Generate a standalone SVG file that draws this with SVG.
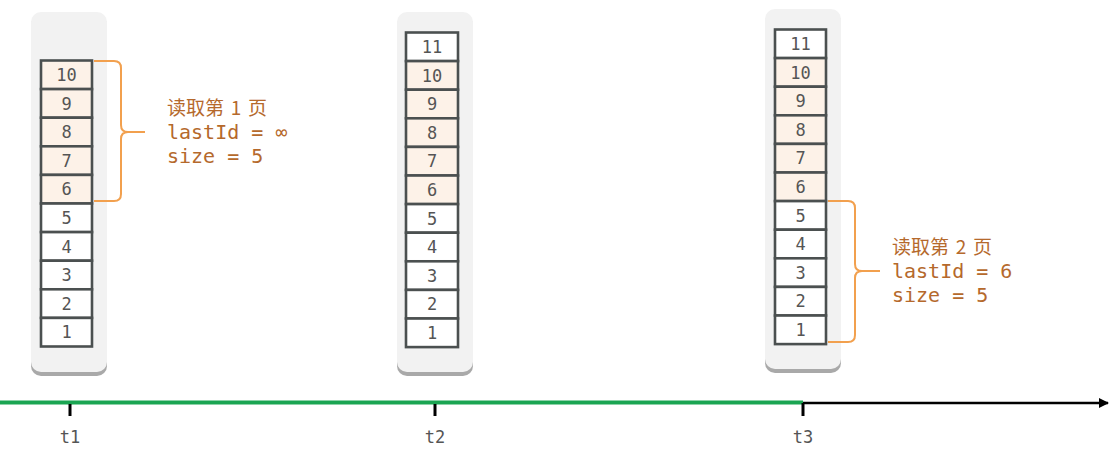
<svg xmlns="http://www.w3.org/2000/svg" width="1117" height="460" viewBox="0 0 1117 460">
<defs>
<style>
.bg{fill:#f2f2f2}
.sh{fill:#a9a9a9}
.c{stroke:#4b5050;stroke-width:2.6}
.w{fill:#ffffff}
.p{fill:#fdf2e8}
.n{font-family:"DejaVu Sans Mono","Liberation Mono",monospace;font-size:17px;fill:#555;text-anchor:middle}
.lbl{font-family:"DejaVu Sans Mono","Liberation Mono","Noto Sans CJK SC",monospace;font-size:20px;fill:#b5692c}
.zh{font-family:"Noto Sans CJK SC",sans-serif;font-size:19px;fill:#b5692c;word-spacing:2.5px}
.br{fill:none;stroke:#f2a04e;stroke-width:2}
.t{font-family:"DejaVu Sans Mono","Liberation Mono",monospace;font-size:17px;fill:#555;text-anchor:middle}
</style>
<marker id="arr" viewBox="0 0 10 10" refX="9" refY="5" markerWidth="4" markerHeight="4" orient="auto" markerUnits="strokeWidth">
<path d="M0,0 L10,5 L0,10 Z" fill="#000"/>
</marker>
</defs>
<rect width="1117" height="460" fill="#fff"/>

<g id="stack-t1">
<rect class="sh" x="31" y="15" width="76" height="361" rx="10"/>
<rect class="bg" x="31" y="12" width="76" height="360" rx="10"/>
<rect class="c p" x="41" y="60.5" width="51" height="28.6"/><text class="n" x="66.5" y="81">10</text>
<rect class="c p" x="41" y="89.1" width="51" height="28.6"/><text class="n" x="66.5" y="109.6">9</text>
<rect class="c p" x="41" y="117.7" width="51" height="28.6"/><text class="n" x="66.5" y="138.2">8</text>
<rect class="c p" x="41" y="146.3" width="51" height="28.6"/><text class="n" x="66.5" y="166.8">7</text>
<rect class="c p" x="41" y="174.9" width="51" height="28.6"/><text class="n" x="66.5" y="195.4">6</text>
<rect class="c w" x="41" y="203.5" width="51" height="28.6"/><text class="n" x="66.5" y="224">5</text>
<rect class="c w" x="41" y="232.1" width="51" height="28.6"/><text class="n" x="66.5" y="252.6">4</text>
<rect class="c w" x="41" y="260.7" width="51" height="28.6"/><text class="n" x="66.5" y="281.2">3</text>
<rect class="c w" x="41" y="289.3" width="51" height="28.6"/><text class="n" x="66.5" y="309.8">2</text>
<rect class="c w" x="41" y="317.9" width="51" height="28.6"/><text class="n" x="66.5" y="338.4">1</text>
</g>

<g id="stack-t2">
<rect class="sh" x="397" y="15" width="76" height="361" rx="10"/>
<rect class="bg" x="397" y="12" width="76" height="360" rx="10"/>
<rect class="c w" x="406" y="32.5" width="52" height="28.6"/><text class="n" x="432" y="53">11</text>
<rect class="c p" x="406" y="61.1" width="52" height="28.6"/><text class="n" x="432" y="81.6">10</text>
<rect class="c p" x="406" y="89.7" width="52" height="28.6"/><text class="n" x="432" y="110.2">9</text>
<rect class="c p" x="406" y="118.3" width="52" height="28.6"/><text class="n" x="432" y="138.8">8</text>
<rect class="c p" x="406" y="146.9" width="52" height="28.6"/><text class="n" x="432" y="167.4">7</text>
<rect class="c p" x="406" y="175.5" width="52" height="28.6"/><text class="n" x="432" y="196">6</text>
<rect class="c w" x="406" y="204.1" width="52" height="28.6"/><text class="n" x="432" y="224.6">5</text>
<rect class="c w" x="406" y="232.7" width="52" height="28.6"/><text class="n" x="432" y="253.2">4</text>
<rect class="c w" x="406" y="261.3" width="52" height="28.6"/><text class="n" x="432" y="281.8">3</text>
<rect class="c w" x="406" y="289.9" width="52" height="28.6"/><text class="n" x="432" y="310.4">2</text>
<rect class="c w" x="406" y="318.5" width="52" height="28.6"/><text class="n" x="432" y="339">1</text>
</g>

<g id="stack-t3">
<rect class="sh" x="765" y="12" width="76" height="361" rx="10"/>
<rect class="bg" x="765" y="9" width="76" height="360" rx="10"/>
<rect class="c w" x="775" y="29.5" width="51" height="28.6"/><text class="n" x="800.5" y="50">11</text>
<rect class="c p" x="775" y="58.1" width="51" height="28.6"/><text class="n" x="800.5" y="78.6">10</text>
<rect class="c p" x="775" y="86.7" width="51" height="28.6"/><text class="n" x="800.5" y="107.2">9</text>
<rect class="c p" x="775" y="115.3" width="51" height="28.6"/><text class="n" x="800.5" y="135.8">8</text>
<rect class="c p" x="775" y="143.9" width="51" height="28.6"/><text class="n" x="800.5" y="164.4">7</text>
<rect class="c p" x="775" y="172.5" width="51" height="28.6"/><text class="n" x="800.5" y="193">6</text>
<rect class="c w" x="775" y="201.1" width="51" height="28.6"/><text class="n" x="800.5" y="221.6">5</text>
<rect class="c w" x="775" y="229.7" width="51" height="28.6"/><text class="n" x="800.5" y="250.2">4</text>
<rect class="c w" x="775" y="258.3" width="51" height="28.6"/><text class="n" x="800.5" y="278.8">3</text>
<rect class="c w" x="775" y="286.9" width="51" height="28.6"/><text class="n" x="800.5" y="307.4">2</text>
<rect class="c w" x="775" y="315.5" width="51" height="28.6"/><text class="n" x="800.5" y="336">1</text>
</g>

<g id="page1">
<path class="br" d="M94,61 H114 Q121,61 121,68 V125 Q121,132 128,132 H145 M128,132 Q121,132 121,139 V194 Q121,201 114,201 H94"/>
<text class="zh" x="167" y="115">读取第 1 页</text>
<text class="lbl" x="167" y="139">lastId = ∞</text>
<text class="lbl" x="167" y="163">size = 5</text>
</g>

<g id="page2">
<path class="br" d="M828,201 H848 Q855,201 855,208 V264 Q855,271 862,271 H880 M862,271 Q855,271 855,278 V335 Q855,342 848,342 H828"/>
<text class="zh" x="892" y="254">读取第 2 页</text>
<text class="lbl" x="892" y="278">lastId = 6</text>
<text class="lbl" x="892" y="302">size = 5</text>
</g>

<g id="connectors">
<line x1="803" y1="403" x2="1108" y2="403" stroke="#000" stroke-width="2.5" marker-end="url(#arr)"/>
<line x1="0" y1="402.5" x2="803" y2="402.5" stroke="#1aa552" stroke-width="4"/>
<line x1="70" y1="404" x2="70" y2="416" stroke="#000" stroke-width="3"/>
<line x1="435" y1="404" x2="435" y2="416" stroke="#000" stroke-width="3"/>
<line x1="803" y1="403" x2="803" y2="416" stroke="#000" stroke-width="3"/>
</g>

<g id="ticks">
<text class="t" x="70" y="443">t1</text>
<text class="t" x="435" y="443">t2</text>
<text class="t" x="803" y="443">t3</text>
</g>
</svg>
